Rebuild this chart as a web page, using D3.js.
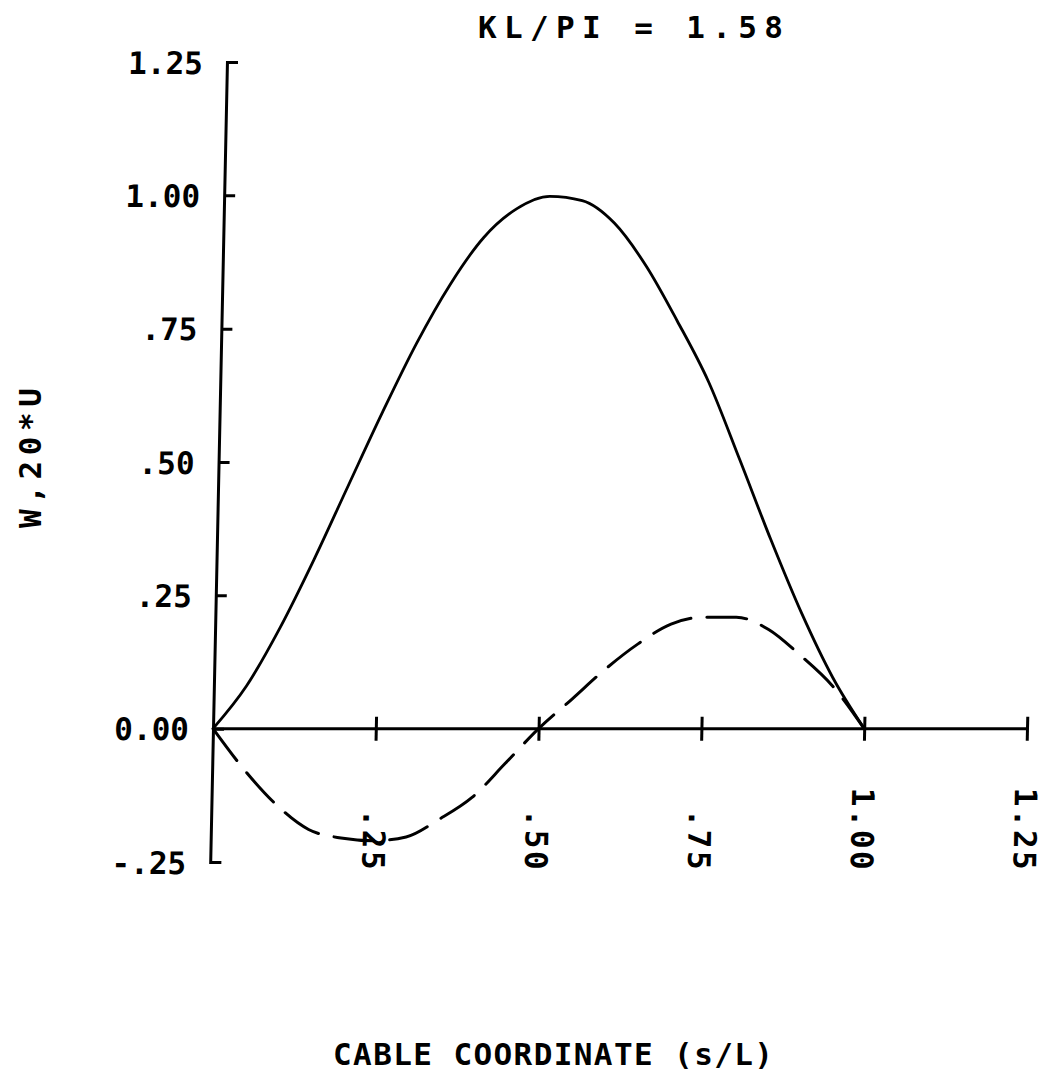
<!DOCTYPE html>
<html>
<head>
<meta charset="utf-8">
<script src="https://cdn.jsdelivr.net/npm/d3@7"></script>
<style>
  html, body { margin: 0; padding: 0; background: #fff; }
  svg { display: block; }
  text { font-family: "DejaVu Sans Mono", "Liberation Mono", monospace; fill: #000; font-weight: bold; }
</style>
</head>
<body>
<svg id="chart" width="1048" height="1080"></svg>
<script>
// ---- data ----
const sValues = [0, 0.05, 0.10, 0.15, 0.20, 0.25, 0.30, 0.35, 0.40, 0.45, 0.50,
                 0.55, 0.60, 0.65, 0.70, 0.75, 0.80, 0.85, 0.90, 0.95, 1.00];
const wValues = [0, 0.080, 0.190, 0.318, 0.456, 0.593, 0.722, 0.833, 0.921, 0.975, 0.998,
                 0.990, 0.948, 0.868, 0.764, 0.650, 0.505, 0.356, 0.217, 0.096, 0];
const uValues = [0, -0.078, -0.143, -0.189, -0.205, -0.210, -0.203, -0.170, -0.129, -0.065, 0,
                 0.055, 0.111, 0.159, 0.196, 0.209, 0.209, 0.186, 0.137, 0.080, 0];
const yTicks = [-0.25, 0, 0.25, 0.50, 0.75, 1.00, 1.25];
const yTickLabels = ["-.25", "0.00", ".25", ".50", ".75", "1.00", "1.25"];
const xTicks = [0.25, 0.50, 0.75, 1.00, 1.25];
const xTickLabels = [".25", ".50", ".75", "1.00", "1.25"];
const titleText = "KL/PI = 1.58";
const xLabelText = "CABLE COORDINATE (s/L)";
const yLabelText = "W,20*U";

// ---- layout ----
const svg = d3.select("#chart");
const x = d3.scaleLinear().domain([0, 1.25]).range([213, 1027]);
const y = d3.scaleLinear().domain([-0.25, 1.25]).range([862, 62]);
const y0 = y(0);
const skew = -1.2; // scan skew of the original plot

const plot = svg.append("g")
  .attr("transform", `translate(0,${y0}) skewX(${skew}) translate(0,${-y0})`);

// Y axis
const yAxis = d3.axisLeft(y)
  .tickValues(yTicks)
  .tickSize(-11)
  .tickPadding(24)
  .tickFormat((d, i) => yTickLabels[i]);
const gy = plot.append("g").attr("transform", `translate(${x(0)},0)`).call(yAxis);
gy.select(".domain").attr("stroke", "#000").attr("stroke-width", 3).attr("fill", "none");
gy.selectAll(".tick line").attr("stroke", "#000").attr("stroke-width", 3);
gy.selectAll(".tick text")
  .attr("font-size", 31)
  .attr("font-family", "DejaVu Sans Mono")
  .attr("font-weight", "bold")
  .attr("dy", "0.36em");

// X axis
const xAxis = d3.axisBottom(x)
  .tickValues(xTicks)
  .tickSizeInner(12)
  .tickSizeOuter(0)
  .tickFormat((d, i) => xTickLabels[i]);
const gx = plot.append("g").attr("transform", `translate(0,${y0})`).call(xAxis);
gx.select(".domain").attr("stroke", "#000").attr("stroke-width", 3)
  .attr("d", `M${x(0)},0H${x(1.25)}`);
gx.selectAll(".tick line").attr("stroke", "#000").attr("stroke-width", 3)
  .attr("y1", -12).attr("y2", 12);
gx.selectAll(".tick text")
  .attr("font-size", 31)
  .attr("font-family", "DejaVu Sans Mono")
  .attr("font-weight", "bold")
  .attr("text-anchor", "end")
  .attr("x", 0).attr("y", 0).attr("dy", "0.36em")
  .attr("textLength", (d, i) => xTickLabels[i].length * 21 - 2)
  .attr("lengthAdjust", "spacing")
  .attr("transform", "translate(0,141) rotate(90)");

// Curves
const wData = sValues.map((s, i) => ({ s, v: wValues[i] }));
const uData = sValues.map((s, i) => ({ s, v: uValues[i] }));
const line = d3.line()
  .x(d => x(d.s))
  .y(d => y(d.v))
  .curve(d3.curveMonotoneX);

plot.append("path").datum(wData)
  .attr("d", line)
  .attr("fill", "none")
  .attr("stroke", "#000")
  .attr("stroke-width", 2.8)
  .attr("stroke-linejoin", "round");

plot.append("path").datum(uData)
  .attr("d", line)
  .attr("fill", "none")
  .attr("stroke", "#000")
  .attr("stroke-width", 3)
  .attr("stroke-dasharray", "40,16")
  .attr("stroke-linecap", "round");

// Title
svg.append("text")
  .attr("x", 478).attr("y", 38)
  .attr("font-size", 31)
  .attr("textLength", 305)
  .attr("lengthAdjust", "spacing")
  .style("white-space", "pre")
  .text(titleText);

// X label
svg.append("text")
  .attr("x", 333).attr("y", 1065)
  .attr("font-size", 31)
  .attr("textLength", 440)
  .attr("lengthAdjust", "spacing")
  .text(xLabelText);

// Y label
svg.append("text")
  .attr("transform", "translate(41,458) rotate(-90)")
  .attr("text-anchor", "middle")
  .attr("font-size", 31)
  .attr("textLength", 140)
  .attr("lengthAdjust", "spacing")
  .text(yLabelText);
</script>
</body>
</html>
